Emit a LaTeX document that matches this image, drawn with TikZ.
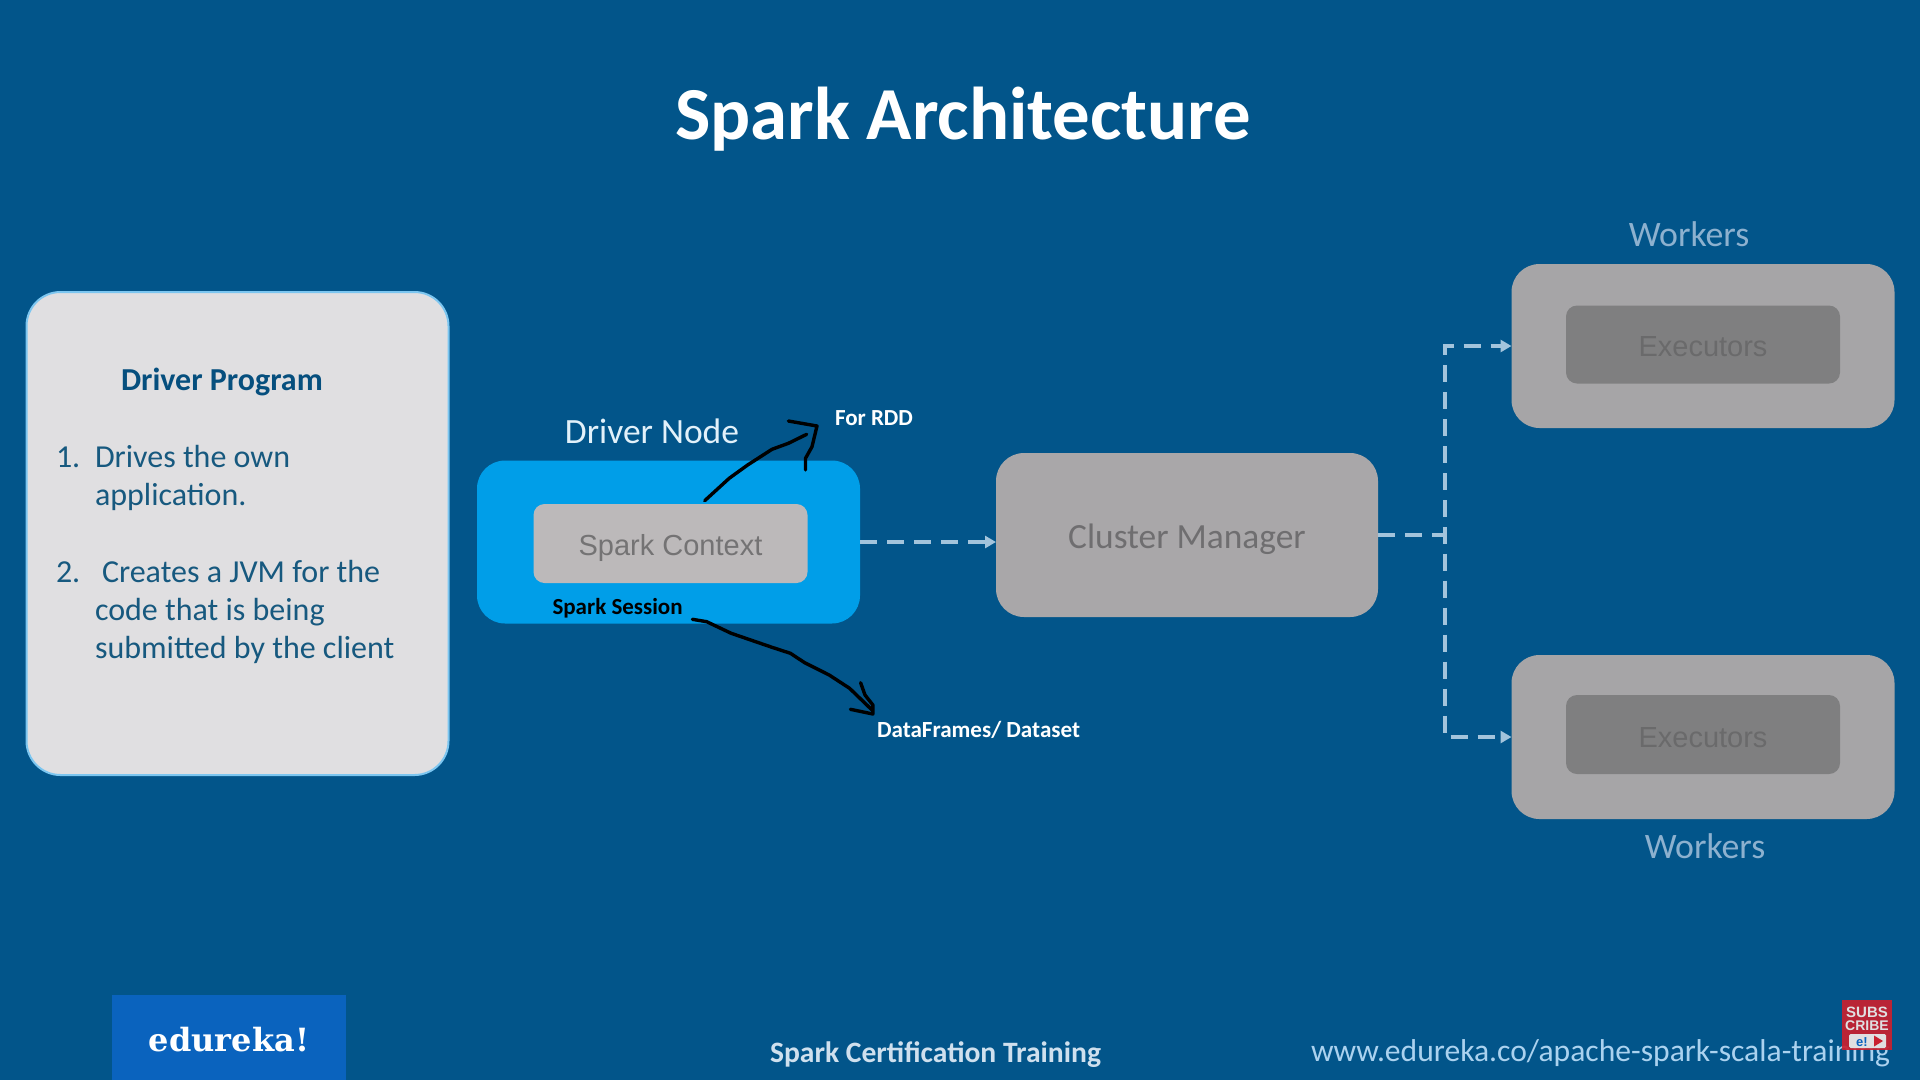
\documentclass[tikz,border=0pt]{standalone}
\usepackage{fontspec}
\setmainfont{Carlito}
\newfontfamily\arialf{Liberation Sans}
\newfontfamily\slabf{DejaVu Serif}
\usetikzlibrary{arrows.meta,calc}
\definecolor{bgblue}{HTML}{02558A}
\definecolor{dnblue}{HTML}{009EE8}
\definecolor{panelgrey}{HTML}{E0DFE1}
\definecolor{paneledge}{HTML}{7CC6F0}
\definecolor{panelink}{HTML}{17597F}
\definecolor{panelhead}{HTML}{064F7E}
\definecolor{scgrey}{HTML}{BCB9BA}
\definecolor{sctext}{HTML}{747374}
\definecolor{cmgrey}{HTML}{A9A7A9}
\definecolor{cmtext}{HTML}{6F6E70}
\definecolor{wkgrey}{HTML}{A6A5A7}
\definecolor{exgrey}{HTML}{7F7F80}
\definecolor{extext}{HTML}{6A6A6B}
\definecolor{dashc}{HTML}{A3C4DC}
\definecolor{wktext}{HTML}{8DB1CF}
\definecolor{lblue}{HTML}{E2F1FA}
\definecolor{edblue}{HTML}{0A63BE}
\definecolor{urlc}{HTML}{ABD2EF}
\definecolor{trainc}{HTML}{CFE0EE}
\definecolor{subred}{HTML}{C9202F}
\newcommand{\fsz}[1]{\fontsize{#1}{#1}\selectfont}
\tikzset{
  x=1pt,y=-1pt,
  txt/.style={inner sep=0pt,outer sep=0pt,anchor=base},
  txtl/.style={inner sep=0pt,outer sep=0pt,anchor=base west},
  boxed/.style={inner sep=0pt,outer sep=0pt},
  item/.style={txtl,text=panelink,font=\fsz{32}},
  dashline/.style={draw=dashc,line width=4.2pt,dash pattern=on 17pt off 10pt},
  centred/.style={dash phase=8.5pt},
  tipped/.style={-{Triangle[length=11pt,width=12pt]}},
  sketch/.style={draw=black,line width=3.4pt,line cap=round,line join=round},
}
\begin{document}
\begin{tikzpicture}
\fill[bgblue] (0,0) rectangle (1920,1080);
\useasboundingbox (0,0) rectangle (1920,1080);

% title
\node[txt,text=white,font=\fsz{74.8}\bfseries] (title) at (963,139) {Spark Architecture};

% driver program panel
\node[boxed,draw=paneledge,line width=2pt,fill=panelgrey,rounded corners=34pt,minimum width=422pt,minimum height=483pt] (panel) at (237.5,533.5) {};
\node[txtl,text=panelhead,font=\fsz{32}\bfseries] (ph) at (121,390) {Driver Program};
\node[item] (n1) at (56,467) {1.};
\node[item] (i1a) at (95,467) {Drives the own};
\node[item] (i1b) at (95,505) {application.};
\node[item] (n2) at (56,582) {2.};
\node[item] (i2a) at (102,582) {Creates a JVM for the};
\node[item] (i2b) at (95,620) {code that is being};
\node[item] (i2c) at (95,658.5) {submitted by the client};

% driver node
\node[txt,text=lblue,font=\fsz{35.5}] (dnl) at (652,443) {Driver Node};
\node[boxed,fill=dnblue,rounded corners=28pt,minimum width=383pt,minimum height=163pt] (dn) at (668.5,542) {};
\node[boxed,fill=scgrey,rounded corners=11pt,minimum width=274pt,minimum height=79pt] (sc) at (670.5,543.5) {};
\node[txt,text=sctext,font=\arialf\fsz{29}] (sct) at (670.5,555) {Spark Context};
\node[txtl,text=black,font=\fsz{23}\bfseries] (ss) at (552.5,614) {Spark Session};

% cluster manager
\node[boxed,fill=cmgrey,rounded corners=28pt,minimum width=382pt,minimum height=164pt] (cm) at (1187,535) {};
\node[txt,text=cmtext,font=\fsz{35.4}] (cmt) at (1187,548) {Cluster Manager};

% workers
\node[txt,text=wktext,font=\fsz{35.8}] (wl1) at (1689,246) {Workers};
\node[boxed,fill=wkgrey,rounded corners=28pt,minimum width=383pt,minimum height=164pt] (w1) at (1703,346) {};
\node[boxed,fill=exgrey,rounded corners=11pt,minimum width=274pt,minimum height=78pt] (e1) at (1703,344.5) {};
\node[txt,text=extext,font=\arialf\fsz{29}] (et1) at (1703,356) {Executors};
\node[boxed,fill=wkgrey,rounded corners=28pt,minimum width=383pt,minimum height=164pt] (w2) at (1703,737) {};
\node[boxed,fill=exgrey,rounded corners=11pt,minimum width=274pt,minimum height=79pt] (e2) at (1703,734.5) {};
\node[txt,text=extext,font=\arialf\fsz{29}] (et2) at (1703,747) {Executors};
\node[txt,text=wktext,font=\fsz{35.8}] (wl2) at (1705,858) {Workers};

% dashed connectors
\coordinate (jn) at (1445,535);
\draw[dashline,tipped] (dn.east) -- (cm.west |- dn.east);
\draw[dashline] (cm.east) -- (jn);
\draw[dashline,centred,tipped] (jn) -- (jn |- w1.west) -- (w1.west);
\draw[dashline,centred,tipped] (jn) -- (jn |- w2.west) -- (w2.west);

% hand-drawn annotations
\node[txtl,text=white,font=\fsz{23}\bfseries] (rdd) at (835,425) {For RDD};
\node[txtl,text=white,font=\fsz{23.1}\bfseries] (dfs) at (877,737) {DataFrames/ Dataset};
\coordinate (a1s) at (704.7,500.7);
\coordinate (a1e) at (806.7,434.3);
\coordinate (a2s) at (692.4,619.3);
\coordinate (a2e) at (872,710);
\draw[sketch] (a1s) -- (729.2,478.3) -- (747.6,465) -- (772,449.3) -- (788.4,443.3) -- (a1e);
\draw[sketch] (788.4,421) -- (817,426) -- (812,446.7) -- (805.5,458.3) -- (805.5,470);
\draw[sketch] (a2s) -- (706.7,621.7) -- (731.2,633.3) -- (772,647.3) -- (790.4,653.3) -- (804.7,662.7) -- (829.2,675) -- (849.6,688.3) -- (a2e);
\draw[sketch] (860.6,682.7) -- (865,695) -- (872.9,705) -- (872.9,714) -- (850.4,709.3);

% footer
\node[boxed,fill=edblue,minimum width=234pt,minimum height=85pt] (edbox) at (228.5,1037.5) {};
\node[txt,text=white,font=\slabf\fsz{32}\bfseries] (edt) at (229,1051) {edureka!};
\node[txtl,text=trainc,font=\fsz{29.6}\bfseries] (train) at (770,1062) {Spark Certification Training};
\node[txtl,text=urlc,font=\fsz{31.6}] (url) at (1311,1061) {www.edureka.co/apache-spark-scala-training};

% subscribe badge
\node[boxed,fill=subred,fill opacity=.92,minimum width=50pt,minimum height=50pt] (sub) at (1867,1025) {};
\node[txt,text=panelgrey,font=\arialf\fsz{15}\bfseries] (s1) at (1867,1017) {SUBS};
\node[txt,text=panelgrey,font=\arialf\fsz{14}\bfseries] (s2) at (1867,1030) {CRIBE};
\node[boxed,fill=panelgrey,rounded corners=1.5pt,minimum width=37pt,minimum height=14pt] (sb) at (1867.5,1041) {};
\node[txt,text=edblue,font=\arialf\fsz{13}\bfseries] (s3) at (1862,1046) {e!};
\fill[subred] (1874,1035.5) -- (1883,1041) -- (1874,1046.5) -- cycle;
\end{tikzpicture}
\end{document}
